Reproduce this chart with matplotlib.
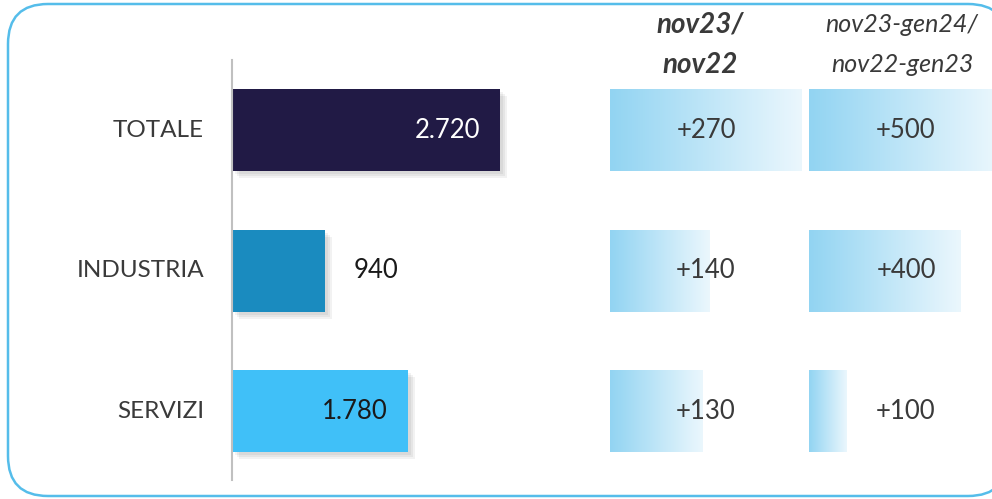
import numpy as np
import matplotlib.pyplot as plt
from matplotlib.patches import FancyBboxPatch
from matplotlib.colors import LinearSegmentedColormap
from matplotlib.transforms import blended_transform_factory

plt.rcParams['font.family'] = ['Lato', 'DejaVu Sans']

# data
sectors = ['TOTALE', 'INDUSTRIA', 'SERVIZI']
levels = [2720, 940, 1780]
level_labels = ['2.720', '940', '1.780']
diff_nov = [270, 140, 130]
diff_novgen = [500, 400, 100]
header_nov = ['nov23/', 'nov22']
header_novgen = ['nov23-gen24/', 'nov22-gen23']

bar_colors = ['#211a45', '#1a8bbf', '#40c0f8']
label_colors = ['white', '#1a1a1a', '#1a1a1a']
text_col = '#3a3a3a'

W, H = 992, 499
fig = plt.figure(figsize=(W / 100, H / 100), dpi=100)


def px_axes(x0, x1, y0, y1):
    # axes placed by pixel box (y from top)
    return fig.add_axes([x0 / W, 1 - y1 / H, (x1 - x0) / W, (y1 - y0) / H])


# row geometry: centres at 130, 271, 411 px
top, bot = 60, 480
step = 140.5
ylim = (2 + (bot - 411) / step, -(130 - top) / step)
bh = 82 / step
ypos = np.arange(len(sectors))

# main bars
ax1 = px_axes(232, 600, top, bot)
scale1 = 0.0987
ax1.set_xlim(0, 368 / scale1)
ax1.set_ylim(*ylim)
for k in range(3):
    for off in [3, 5, 7]:
        ax1.barh(ypos[k] + off / step, levels[k], left=off / scale1, height=bh,
                 color='black', alpha=0.05, zorder=1)
ax1.barh(ypos, levels, height=bh, color=bar_colors, zorder=2)
for k in range(3):
    if levels[k] > 1500:
        ax1.text(levels[k] - 20 / scale1, ypos[k], level_labels[k], ha='right',
                 va='center', fontsize=18.5, color=label_colors[k], zorder=3)
    else:
        ax1.text(levels[k] + 29 / scale1, ypos[k], level_labels[k], ha='left',
                 va='center', fontsize=18.5, color=label_colors[k], zorder=3)
    ax1.text(-28 / scale1, ypos[k], sectors[k], ha='right', va='center',
             fontsize=17.5, color=text_col, clip_on=False)
for s in ['top', 'right', 'bottom']:
    ax1.spines[s].set_visible(False)
ax1.spines['left'].set_color('#c0c0c0')
ax1.spines['left'].set_linewidth(1.5)
ax1.set_xticks([])
ax1.set_yticks([])
ax1.patch.set_visible(False)

grad = LinearSegmentedColormap.from_list('g', ['#92d4f2', '#ebf7fd'])
ramp = np.linspace(0, 1, 256).reshape(1, -1)


def grad_panel(ax, vals, scale, xmax_px, text_center_px):
    ax.set_xlim(0, xmax_px / scale)
    ax.set_ylim(*ylim)
    tr = blended_transform_factory(ax.transAxes, ax.transData)
    for k, v in enumerate(vals):
        ax.imshow(ramp, cmap=grad, aspect='auto', interpolation='bilinear',
                  extent=[0, v, ypos[k] + bh / 2, ypos[k] - bh / 2], zorder=1)
        ax.text(text_center_px / xmax_px, ypos[k], '+%d' % v, transform=tr,
                ha='center', va='center', fontsize=18.5, color=text_col, zorder=3)
    ax.set_xlim(0, xmax_px / scale)
    ax.set_ylim(*ylim)
    ax.axis('off')


ax2 = px_axes(610, 805, top, bot)
grad_panel(ax2, diff_nov, 0.708, 195, 96)
ax3 = px_axes(809, 992, top, bot)
grad_panel(ax3, diff_novgen, 0.38, 183, 97)

# column headers
fig.text(700 / W, 1 - 25 / H, header_nov[0], ha='center', va='center',
         fontsize=20, style='italic', weight='bold', color=text_col)
fig.text(700 / W, 1 - 65 / H, header_nov[1], ha='center', va='center',
         fontsize=20, style='italic', weight='bold', color=text_col)
fig.text(902 / W, 1 - 25 / H, header_novgen[0], ha='center', va='center',
         fontsize=18, style='italic', color=text_col)
fig.text(902 / W, 1 - 65 / H, header_novgen[1], ha='center', va='center',
         fontsize=18, style='italic', color=text_col)

# rounded frame running off the right edge; filled white and kept behind the axes
r = 40
frame = FancyBboxPatch((8 / W, 3 / H), 1000 / W, 492 / H,
                       boxstyle='round,pad=0,rounding_size=%f' % (r / W),
                       mutation_aspect=W / H, transform=fig.transFigure,
                       facecolor='white', edgecolor='#55bdea', linewidth=1.8,
                       zorder=-5)
fig.patches.append(frame)

fig.savefig('out.png', dpi=100)
